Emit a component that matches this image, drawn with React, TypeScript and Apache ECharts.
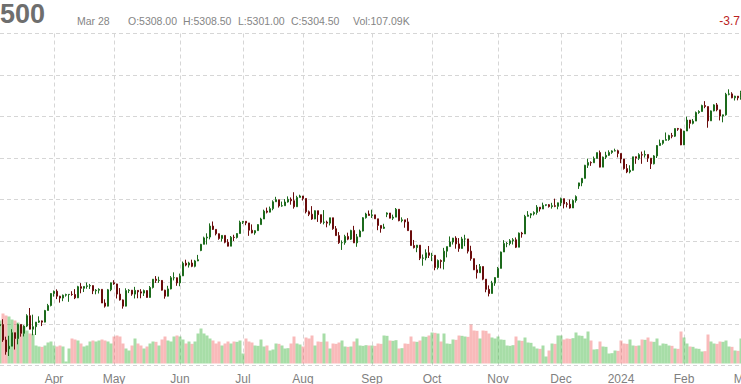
import { useEffect, useRef } from "react";
import * as echarts from "echarts";

const titleText = "500";
const headerDate = "Mar 28";
const headerOpen = "O:5308.00";
const headerHigh = "H:5308.50";
const headerLow = "L:5301.00";
const headerClose = "C:5304.50";
const headerVol = "Vol:107.09K";
const headerChange = "-3.7";

const monthNames = ["Jan", "Feb", "Mar", "Apr", "May", "Jun", "Jul", "Aug", "Sep", "Oct", "Nov", "Dec"];

const priceMin = 3800;
const priceMax = 5400;
const priceStep = 200;

const dates = [
  "2023-03-08","2023-03-09","2023-03-10","2023-03-13","2023-03-14","2023-03-15","2023-03-16","2023-03-17","2023-03-20","2023-03-21","2023-03-22","2023-03-23","2023-03-24","2023-03-27","2023-03-28","2023-03-29","2023-03-30","2023-03-31",
  "2023-04-03","2023-04-04","2023-04-05","2023-04-06","2023-04-07","2023-04-10","2023-04-11","2023-04-12","2023-04-13","2023-04-14","2023-04-17","2023-04-18","2023-04-19","2023-04-20","2023-04-21","2023-04-24","2023-04-25","2023-04-26","2023-04-27","2023-04-28",
  "2023-05-01","2023-05-02","2023-05-03","2023-05-04","2023-05-05","2023-05-08","2023-05-09","2023-05-10","2023-05-11","2023-05-12","2023-05-15","2023-05-16","2023-05-17","2023-05-18","2023-05-19","2023-05-22","2023-05-23","2023-05-24","2023-05-25","2023-05-26","2023-05-30","2023-05-31",
  "2023-06-01","2023-06-02","2023-06-05","2023-06-06","2023-06-07","2023-06-08","2023-06-09","2023-06-12","2023-06-13","2023-06-14","2023-06-15","2023-06-16","2023-06-20","2023-06-21","2023-06-22","2023-06-23","2023-06-26","2023-06-27","2023-06-28","2023-06-29","2023-06-30",
  "2023-07-03","2023-07-05","2023-07-06","2023-07-07","2023-07-10","2023-07-11","2023-07-12","2023-07-13","2023-07-14","2023-07-17","2023-07-18","2023-07-19","2023-07-20","2023-07-21","2023-07-24","2023-07-25","2023-07-26","2023-07-27","2023-07-28","2023-07-31",
  "2023-08-01","2023-08-02","2023-08-03","2023-08-04","2023-08-07","2023-08-08","2023-08-09","2023-08-10","2023-08-11","2023-08-14","2023-08-15","2023-08-16","2023-08-17","2023-08-18","2023-08-21","2023-08-22","2023-08-23","2023-08-24","2023-08-25","2023-08-28","2023-08-29","2023-08-30","2023-08-31",
  "2023-09-01","2023-09-05","2023-09-06","2023-09-07","2023-09-08","2023-09-11","2023-09-12","2023-09-13","2023-09-14","2023-09-15","2023-09-18","2023-09-19","2023-09-20","2023-09-21","2023-09-22","2023-09-25","2023-09-26","2023-09-27","2023-09-28","2023-09-29",
  "2023-10-02","2023-10-03","2023-10-04","2023-10-05","2023-10-06","2023-10-09","2023-10-10","2023-10-11","2023-10-12","2023-10-13","2023-10-16","2023-10-17","2023-10-18","2023-10-19","2023-10-20","2023-10-23","2023-10-24","2023-10-25","2023-10-26","2023-10-27","2023-10-30","2023-10-31",
  "2023-11-01","2023-11-02","2023-11-03","2023-11-06","2023-11-07","2023-11-08","2023-11-09","2023-11-10","2023-11-13","2023-11-14","2023-11-15","2023-11-16","2023-11-17","2023-11-20","2023-11-21","2023-11-22","2023-11-24","2023-11-27","2023-11-28","2023-11-29","2023-11-30",
  "2023-12-01","2023-12-04","2023-12-05","2023-12-06","2023-12-07","2023-12-08","2023-12-11","2023-12-12","2023-12-13","2023-12-14","2023-12-15","2023-12-18","2023-12-19","2023-12-20","2023-12-21","2023-12-22","2023-12-26","2023-12-27","2023-12-28","2023-12-29",
  "2024-01-02","2024-01-03","2024-01-04","2024-01-05","2024-01-08","2024-01-09","2024-01-10","2024-01-11","2024-01-12","2024-01-16","2024-01-17","2024-01-18","2024-01-19","2024-01-22","2024-01-23","2024-01-24","2024-01-25","2024-01-26","2024-01-29","2024-01-30","2024-01-31",
  "2024-02-01","2024-02-02","2024-02-05","2024-02-06","2024-02-07","2024-02-08","2024-02-09","2024-02-12","2024-02-13","2024-02-14","2024-02-15","2024-02-16","2024-02-20","2024-02-21","2024-02-22","2024-02-23","2024-02-26","2024-02-27","2024-02-28","2024-02-29",
  "2024-03-01",
];

// [open, close, low, high]
const ohlc = [
  [3992,3997,3974,4005],[3997,3923,3914,4023],[3923,3866,3852,3939],[3880,3893,3846,3943],[3893,3958,3893,3975],[3958,3930,3877,3958],[3930,3998,3902,4002],[3998,3955,3939,3998],[3955,3990,3940,3994],[3990,4040,3985,4047],[4040,3975,3974,4077],[3975,3987,3946,4045],[3987,4009,3947,4010],[4009,4015,4005,4037],[4015,4009,3990,4017],[4009,4065,4008,4068],[4065,4089,4065,4097],[4089,4147,4085,4148],
  [4147,4158,4132,4161],[4158,4134,4120,4167],[4134,4125,4103,4136],[4125,4139,4110,4142],[4139,4142,4132,4146],[4142,4143,4107,4144],[4143,4142,4136,4158],[4142,4126,4120,4168],[4126,4180,4125,4184],[4180,4172,4148,4197],[4172,4181,4154,4182],[4181,4184,4170,4200],[4184,4185,4169,4193],[4185,4160,4144,4186],[4160,4163,4143,4168],[4163,4167,4147,4172],[4167,4101,4101,4168],[4101,4086,4079,4119],[4086,4165,4085,4169],[4165,4199,4158,4200],
  [4199,4193,4189,4211],[4193,4144,4123,4194],[4144,4116,4113,4173],[4116,4086,4074,4118],[4086,4161,4085,4172],[4161,4163,4149,4168],[4163,4144,4136,4164],[4144,4162,4123,4179],[4162,4155,4124,4163],[4155,4149,4124,4168],[4149,4161,4135,4166],[4161,4128,4127,4162],[4128,4176,4127,4183],[4176,4216,4171,4216],[4216,4210,4198,4231],[4210,4210,4198,4228],[4210,4163,4161,4212],[4163,4134,4122,4165],[4134,4169,4133,4184],[4169,4223,4167,4231],[4223,4223,4210,4249],[4223,4198,4184,4224],
  [4198,4232,4182,4243],[4232,4293,4231,4301],[4293,4284,4278,4310],[4284,4294,4272,4300],[4294,4278,4274,4310],[4278,4304,4273,4309],[4304,4310,4303,4333],[4354,4384,4351,4386],[4384,4415,4384,4421],[4415,4419,4383,4437],[4419,4472,4408,4485],[4472,4456,4453,4494],[4456,4435,4427,4456],[4435,4412,4406,4436],[4412,4427,4397,4428],[4427,4394,4389,4427],[4394,4375,4374,4409],[4375,4418,4375,4424],[4418,4417,4400,4430],[4417,4436,4412,4438],[4436,4490,4436,4498],
  [4490,4495,4482,4496],[4495,4487,4476,4495],[4487,4452,4425,4487],[4452,4439,4437,4480],[4439,4450,4430,4452],[4450,4479,4449,4481],[4479,4506,4479,4512],[4506,4544,4506,4551],[4544,4539,4533,4561],[4539,4556,4538,4566],[4556,4589,4548,4596],[4589,4599,4589,4613],[4599,4569,4561,4599],[4569,4570,4565,4590],[4570,4588,4570,4602],[4588,4601,4585,4615],[4601,4594,4575,4610],[4594,4565,4556,4635],[4565,4610,4565,4618],[4610,4617,4610,4623],
  [4617,4605,4595,4617],[4605,4541,4533,4605],[4541,4529,4520,4547],[4529,4506,4502,4568],[4506,4546,4505,4548],[4546,4527,4492,4546],[4527,4490,4483,4527],[4490,4491,4480,4549],[4491,4486,4466,4498],[4486,4512,4475,4512],[4512,4459,4454,4512],[4459,4426,4425,4472],[4426,4392,4386,4443],[4392,4392,4357,4403],[4392,4422,4382,4430],[4422,4409,4404,4440],[4409,4451,4405,4454],[4451,4391,4390,4473],[4391,4420,4372,4434],[4420,4448,4420,4455],[4448,4512,4446,4515],[4512,4530,4508,4536],[4530,4523,4522,4547],
  [4523,4526,4511,4551],[4526,4507,4506,4526],[4507,4475,4452,4507],[4475,4461,4440,4475],[4461,4467,4458,4483],[4529,4535,4515,4538],[4535,4510,4509,4535],[4510,4515,4501,4527],[4515,4553,4515,4559],[4553,4498,4495,4553],[4498,4502,4490,4514],[4502,4492,4464,4502],[4492,4450,4450,4510],[4450,4378,4378,4450],[4378,4368,4364,4405],[4368,4380,4346,4381],[4380,4317,4308,4380],[4317,4318,4281,4335],[4318,4343,4307,4360],[4343,4331,4318,4376],
  [4331,4331,4303,4343],[4331,4272,4259,4331],[4272,4306,4263,4311],[4306,4301,4268,4311],[4301,4351,4263,4367],[4351,4373,4321,4373],[4373,4395,4373,4422],[4395,4414,4383,4415],[4414,4386,4363,4423],[4386,4364,4348,4414],[4364,4410,4364,4420],[4410,4410,4375,4430],[4410,4351,4340,4410],[4351,4315,4305,4377],[4315,4261,4260,4315],[4261,4247,4219,4285],[4247,4277,4247,4289],[4277,4216,4211,4277],[4216,4167,4153,4216],[4167,4147,4133,4186],[4147,4197,4147,4208],[4197,4224,4184,4225],
  [4224,4268,4224,4275],[4268,4347,4268,4349],[4347,4388,4347,4404],[4388,4388,4370,4395],[4388,4401,4379,4409],[4401,4406,4383,4414],[4406,4370,4366,4417],[4370,4438,4370,4441],[4438,4434,4416,4444],[4434,4519,4434,4526],[4519,4525,4518,4544],[4525,4531,4510,4534],[4531,4537,4523,4543],[4537,4563,4527,4573],[4563,4554,4542,4563],[4554,4572,4554,4585],[4572,4575,4568,4576],[4575,4566,4561,4578],[4566,4570,4556,4584],[4570,4567,4563,4604],[4567,4584,4553,4585],
  [4584,4604,4568,4609],[4604,4579,4557,4604],[4579,4577,4562,4588],[4577,4559,4556,4600],[4559,4595,4559,4601],[4595,4614,4585,4620],[4665,4680,4651,4681],[4680,4702,4664,4702],[4702,4765,4701,4767],[4765,4778,4752,4797],[4778,4777,4762,4784],[4777,4798,4777,4807],[4798,4826,4798,4826],[4826,4756,4755,4836],[4756,4804,4756,4807],[4804,4813,4795,4830],[4813,4827,4810,4837],[4827,4834,4820,4837],[4834,4835,4832,4845],[4835,4822,4803,4840],
  [4822,4795,4775,4822],[4795,4749,4744,4795],[4749,4733,4727,4771],[4733,4741,4726,4765],[4741,4806,4739,4806],[4806,4799,4772,4807],[4799,4816,4790,4823],[4816,4814,4772,4831],[4814,4817,4802,4836],[4817,4799,4781,4817],[4799,4772,4747,4799],[4772,4810,4769,4814],[4810,4860,4800,4862],[4860,4871,4859,4889],[4871,4885,4864,4886],[4885,4889,4885,4923],[4889,4908,4883,4912],[4908,4905,4895,4921],[4905,4942,4901,4943],[4942,4939,4931,4945],[4939,4863,4862,4942],
  [4863,4930,4863,4931],[4930,4983,4930,4999],[4983,4967,4942,4983],[4967,4978,4962,4988],[4978,5019,4978,5024],[5019,5024,5013,5030],[5024,5053,5024,5057],[5053,5048,5040,5074],[5048,4979,4946,5048],[4979,5027,4979,5029],[5027,5056,5025,5059],[5056,5032,5025,5065],[5032,5002,4981,5032],[5002,5008,4972,5009],[5008,5107,5004,5114],[5107,5109,5102,5131],[5109,5090,5088,5117],[5090,5098,5077,5100],[5098,5090,5078,5099],[5090,5116,5081,5124],
  [5116,5157,5114,5160],
];

// thousands of contracts
const volumes = [
  2580,3000,2880,2820,2640,2580,2460,2280,2220,1980,1800,1760,1080,1020,1000,1080,1260,1320,
  1080,1020,1080,1020,120,900,1500,1440,1380,1200,1020,1080,1320,1380,1320,1380,1440,1380,1320,1200,
  1620,1680,1620,1200,900,780,1080,1500,1200,1080,900,1020,1200,1320,1300,1080,1440,1620,1380,1320,1620,1680,
  1620,1440,1200,1320,1180,1320,1800,2100,1800,1680,1500,1380,1200,1320,1080,1200,1320,1200,1320,1300,1380,
  600,1500,1320,1260,1080,1060,1440,1020,1080,780,840,1200,1180,1080,900,920,1200,1620,1200,1140,
  1020,1560,1500,1680,1080,1320,1300,1800,1320,900,1200,1180,1260,1380,1020,1000,1020,1320,1500,1080,1060,1100,1080,
  1080,1060,1200,1180,1680,1660,1380,1360,1400,900,920,1200,1180,1620,1320,1300,1380,1620,1600,1680,
  1860,1840,1800,1320,1800,1200,1180,1440,1420,1680,1660,1620,1600,2340,1980,1960,1500,1980,1960,1800,1560,1500,
  1620,1440,1420,1080,1060,1100,1620,1380,1360,1560,1260,1240,1020,900,880,1080,420,780,1200,1180,1680,
  1680,1440,1500,1480,1520,1860,1680,1660,1500,1920,1380,840,860,1320,1020,1000,600,620,780,760,
  1380,1200,1180,1440,1080,1060,1080,1440,1420,1560,1320,1300,1500,1080,1200,1180,1080,1060,900,880,1920,
  1560,1200,1020,1000,900,880,720,740,1740,1320,1200,1180,1320,1300,1380,1020,1000,780,760,1500,
  1440,
];

const upColor = "#3dbe3d";
const upBorder = "#1c6a1c";
const downColor = "#b51c1c";
const downBorder = "#6a0c0c";
const volUpColor = "rgba(60,180,60,0.45)";
const volDownColor = "rgba(240,90,90,0.42)";
const gridColor = "#d6d6d6";
const fontFamily = "'Liberation Sans', Arial, Helvetica, sans-serif";

export default function App() {
  const ref = useRef<HTMLDivElement>(null);

  useEffect(() => {
    if (!ref.current) return;
    const chart = echarts.init(ref.current, null, { renderer: "svg" });
    const isMonthStart = (i: number) =>
      i > 0 && dates[i].slice(0, 7) !== dates[i - 1].slice(0, 7);

    const headerItems = [
      { text: headerDate, x: 77 },
      { text: headerOpen, x: 128 },
      { text: headerHigh, x: 183 },
      { text: headerLow, x: 238 },
      { text: headerClose, x: 291 },
      { text: headerVol, x: 353 },
    ];

    chart.setOption({
      animation: false,
      grid: [
        { left: 0, right: -3, top: 33.5, bottom: 18.5, outerBoundsMode: "none", containLabel: false },
        { left: 0, right: -3, top: 263.5, bottom: 20.5, outerBoundsMode: "none", containLabel: false },
      ],
      xAxis: [
        {
          type: "category",
          gridIndex: 0,
          data: dates,
          boundaryGap: false,
          axisLine: { show: false },
          axisTick: { show: false },
          axisLabel: {
            interval: (i: number) => isMonthStart(i),
            formatter: (v: string) => {
              const m = parseInt(v.slice(5, 7), 10);
              return m === 1 ? v.slice(0, 4) : monthNames[m - 1];
            },
            color: "#808080",
            fontSize: 12,
            fontFamily,
            margin: 7,
          },
          splitLine: {
            show: true,
            interval: (i: number) => isMonthStart(i),
            lineStyle: { color: gridColor, type: [4, 3], width: 1 },
          },
        },
        {
          type: "category",
          gridIndex: 1,
          data: dates,
          boundaryGap: false,
          show: false,
        },
      ],
      yAxis: [
        {
          type: "value",
          gridIndex: 0,
          min: priceMin,
          max: priceMax,
          interval: priceStep,
          position: "right",
          axisLabel: { show: false },
          axisLine: { show: false },
          axisTick: { show: false },
          splitLine: { show: true, lineStyle: { color: gridColor, type: [4, 3], width: 1 } },
        },
        {
          type: "value",
          gridIndex: 1,
          min: 0,
          max: 6000,
          show: false,
          splitLine: { show: false },
        },
      ],
      series: [
        {
          type: "bar",
          xAxisIndex: 1,
          yAxisIndex: 1,
          barWidth: 3,
          silent: true,
          z: 1,
          data: volumes.map((v, i) => ({
            value: v,
            itemStyle: { color: ohlc[i][1] >= ohlc[i][0] ? volUpColor : volDownColor },
          })),
        },
        {
          type: "candlestick",
          xAxisIndex: 0,
          yAxisIndex: 0,
          barWidth: 2,
          z: 5,
          data: ohlc,
          itemStyle: {
            color: upColor,
            color0: downColor,
            borderColor: upBorder,
            borderColor0: downBorder,
            borderWidth: 1,
          },
        },
      ],
      graphic: [
        {
          type: "text",
          x: 0,
          y: 13.5,
          style: {
            text: titleText,
            fill: "#6e6e6e",
            fontSize: 27,
            fontWeight: "bold",
            fontFamily,
            verticalAlign: "middle",
            align: "left",
          },
        },
        ...headerItems.map((h) => ({
          type: "text",
          x: h.x,
          y: 21,
          style: {
            text: h.text,
            fill: "#858585",
            fontSize: 10.5,
            fontFamily,
            verticalAlign: "middle",
            align: "left",
          },
        })),
        {
          type: "text",
          x: 740,
          y: 21,
          style: {
            text: headerChange,
            fill: "#bb2222",
            fontSize: 12,
            fontFamily,
            verticalAlign: "middle",
            align: "right",
          },
        },
      ],
    });

    return () => chart.dispose();
  }, []);

  return (
    <div
      ref={ref}
      style={{ position: "absolute", left: 0, top: 0, width: 741, height: 384 }}
    />
  );
}
